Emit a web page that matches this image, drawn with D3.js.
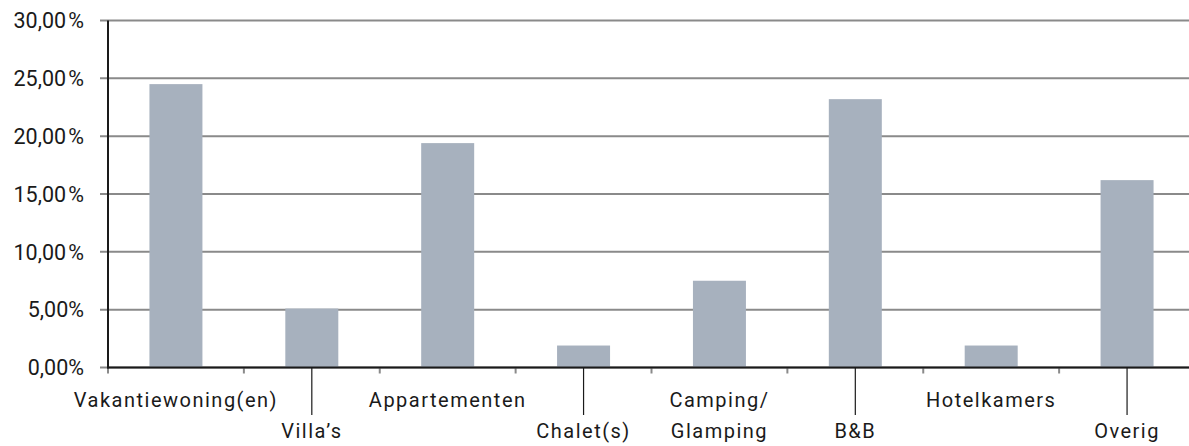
<!DOCTYPE html>
<html>
<head>
<meta charset="utf-8">
<script src="https://cdn.jsdelivr.net/npm/d3@7"></script>
<style>
  html, body { margin: 0; padding: 0; background: #fff; }
  svg { display: block; }
  text { font-family: Roboto, "Noto Sans", sans-serif; fill: #1a1a1a; }
</style>
</head>
<body>
<svg id="chart" width="1189" height="446"></svg>
<script>
const categories = ["Vakantiewoning(en)", "Villa\u2019s", "Appartementen", "Chalet(s)", "Camping/\nGlamping", "B&B", "Hotelkamers", "Overig"];
const values = [24.5, 5.1, 19.4, 1.9, 7.5, 23.2, 1.9, 16.2];
const yTicks = [0, 5, 10, 15, 20, 25, 30];
const yTickLabels = ["0,00%", "5,00%", "10,00\u200a%", "15,00\u200a%", "20,00\u200a%", "25,00\u200a%", "30,00\u200a%"];

const W = 1189, H = 446;
const svg = d3.select("#chart");

const x = d3.scaleBand().domain(categories).range([108, 1195]).padding(0);
const y = d3.scaleLinear().domain([0, 30]).range([367.5, 20.5]);

const gridColor = "#8a8a8a";
const barColor = "#a7b1be";

// gridlines (extend left of axis as ticks)
svg.append("g").selectAll("line").data(yTicks).join("line")
  .attr("x1", 100).attr("x2", W)
  .attr("y1", d => y(d)).attr("y2", d => y(d))
  .attr("stroke", gridColor).attr("stroke-width", 2);

// y labels
svg.append("g").selectAll("text").data(yTicks).join("text")
  .attr("x", 84).attr("y", d => y(d))
  .attr("dy", "0.36em")
  .attr("text-anchor", "end")
  .attr("font-size", 21.5)
  .text((d, i) => yTickLabels[i]);

// bars
const bw = x.bandwidth() * 0.39;
svg.append("g").selectAll("rect").data(categories).join("rect")
  .attr("x", d => x(d) + (x.bandwidth() - bw) / 2)
  .attr("width", bw)
  .attr("y", (d, i) => y(values[i]))
  .attr("height", (d, i) => y(0) - y(values[i]))
  .attr("fill", barColor);

// x ticks at band boundaries
const bounds = categories.map(c => x(c));
svg.append("g").selectAll("line").data(bounds).join("line")
  .attr("x1", d => d).attr("x2", d => d)
  .attr("y1", y(0)).attr("y2", y(0) + 6)
  .attr("stroke", gridColor).attr("stroke-width", 2);

// axes
svg.append("line").attr("x1", 108).attr("x2", 108).attr("y1", y(30)).attr("y2", y(0) + 1)
  .attr("stroke", "#1a1a1a").attr("stroke-width", 2);
svg.append("line").attr("x1", 107).attr("x2", W).attr("y1", y(0)).attr("y2", y(0))
  .attr("stroke", "#1a1a1a").attr("stroke-width", 2);

// leader lines for staggered labels
svg.append("g").selectAll("line").data(categories.filter((d, i) => i % 2 === 1)).join("line")
  .attr("x1", d => x(d) + x.bandwidth() / 2).attr("x2", d => x(d) + x.bandwidth() / 2)
  .attr("y1", y(0)).attr("y2", 415)
  .attr("stroke", "#1a1a1a").attr("stroke-width", 1.2);

// category labels
const lab = svg.append("g").selectAll("text").data(categories).join("text")
  .attr("text-anchor", "middle")
  .attr("font-size", 20)
  .attr("letter-spacing", "1.5px")
  .attr("x", d => x(d) + x.bandwidth() / 2)
  .attr("y", (d, i) => i % 2 === 0 ? 407 : 438);
lab.each(function(d) {
  const lines = d.split("\n");
  const t = d3.select(this);
  const x0 = t.attr("x");
  lines.forEach((l, j) => {
    t.append("tspan").attr("x", x0).attr("dy", j === 0 ? 0 : 31).text(l);
  });
});
</script>
</body>
</html>
